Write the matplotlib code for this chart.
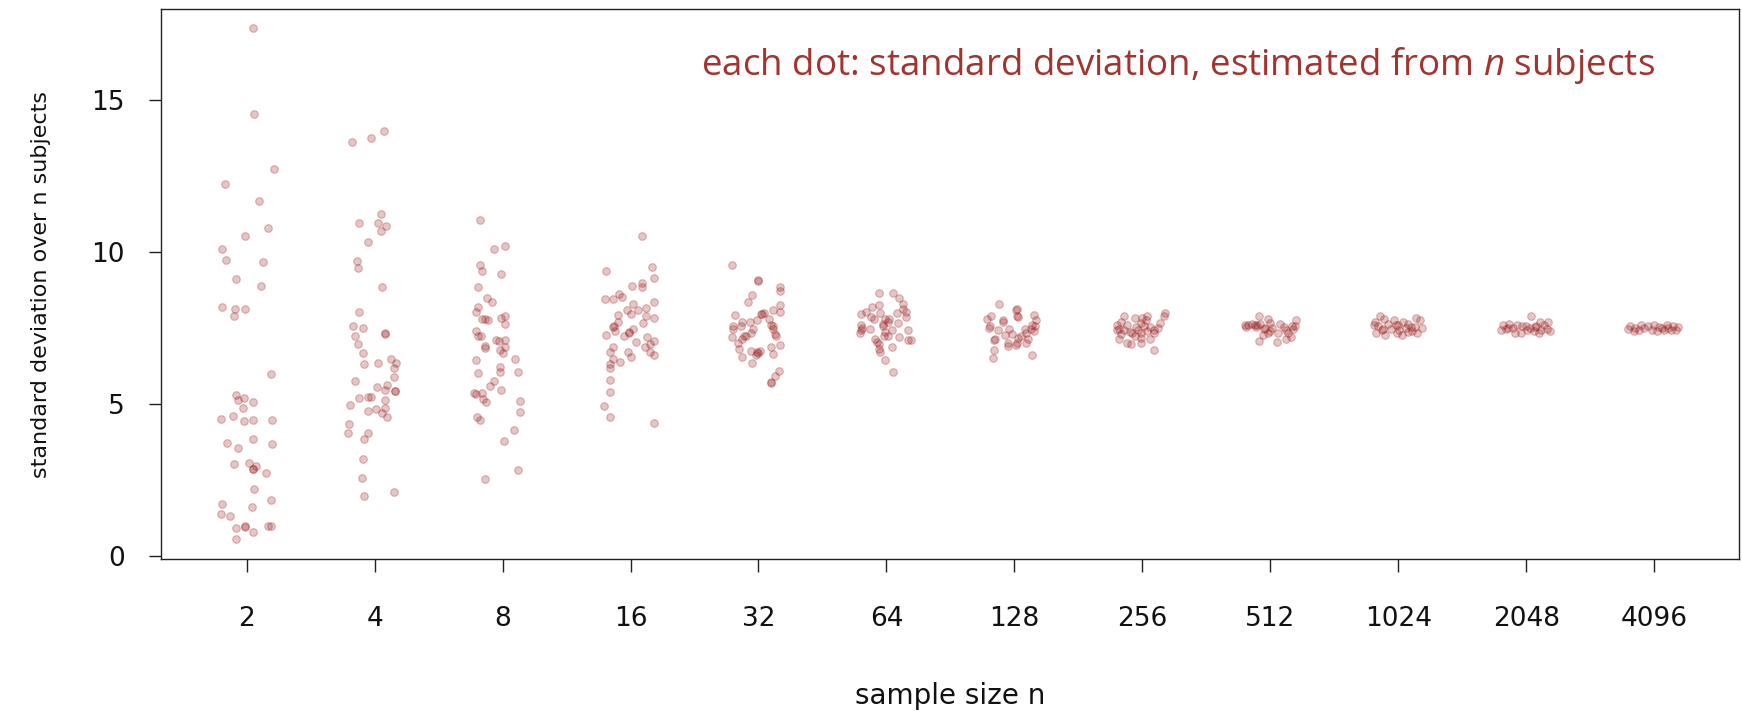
#!/usr/bin/env python3
# plot.py - spread of the sample standard deviation vs. sample size

import matplotlib
matplotlib.use("Agg")
import matplotlib.pyplot as plt
import numpy as np

sample_sizes = ["2", "4", "8", "16", "32", "64", "128", "256", "512",
                "1024", "2048", "4096"]

# (sd estimate, horizontal jitter), one list per n
pts_2 = [(17.38, .05), (14.54, .06), (12.73, .21), (12.26, -.17),
         (11.68, .10), (10.80, .17), (10.53, -.01), (10.11, -.19),
         (9.75, -.16), (9.68, .13), (9.12, -.08), (8.89, .11), (8.21, -.19),
         (8.14, -.09), (8.13, -.01), (7.91, -.10), (5.98, .19), (5.31, -.08),
         (5.13, -.07), (5.22, -.02), (5.07, .05), (4.88, -.03), (4.51, -.20),
         (4.60, -.11), (4.45, -.02), (4.48, .05), (4.47, .20), (3.72, -.15),
         (3.57, -.07), (3.84, .05), (3.69, .20), (3.02, -.10), (3.05, .02),
         (2.88, .05), (2.97, .07), (2.86, .05), (2.74, .15), (2.21, .06),
         (1.86, .19), (1.70, -.19), (1.61, .04), (1.37, -.20), (1.32, -.13),
         (0.93, -.08), (0.98, -.01), (0.79, .05), (0.98, .17), (1.00, .19),
         (0.57, -.08), (0.95, -.01)]
pts_4 = [(13.99, .07), (13.76, -.03), (13.63, -.18), (11.25, .05),
         (10.97, -.12), (10.97, .03), (10.85, .09), (10.69, .05),
         (10.35, -.05), (9.70, -.14), (9.47, -.13), (8.85, .06), (8.02, -.12),
         (7.58, -.17), (7.51, -.09), (7.26, -.15), (7.33, .08), (7.30, .08),
         (6.99, -.13), (6.68, -.09), (6.32, -.08), (6.36, .03), (6.49, .13),
         (6.36, .17), (6.20, .15), (5.90, .15), (5.78, -.15), (5.56, .02),
         (5.62, .10), (5.46, .08), (5.44, .16), (5.42, .16), (5.21, -.12),
         (5.25, -.05), (5.25, -.03), (5.13, .08), (4.97, -.19), (4.79, -.05),
         (4.84, .01), (4.87, .08), (4.72, .06), (4.59, .10), (4.34, -.20),
         (4.05, -.21), (4.05, -.05), (3.87, -.08), (3.18, -.09), (2.57, -.10),
         (1.97, -.08), (2.11, .15)]
pts_8 = [(11.05, -.18), (10.12, -.07), (10.22, .02), (9.57, -.18),
         (9.40, -.16), (9.30, -.01), (8.87, -.19), (8.49, -.12), (8.38, -.08),
         (8.20, -.19), (8.03, -.21), (7.79, -.16), (7.79, -.14), (7.76, -.11),
         (7.84, -.01), (7.89, .02), (7.64, .02), (7.40, -.21), (7.23, -.19),
         (7.24, -.17), (7.12, -.05), (7.09, -.03), (7.10, .02), (6.91, -.14),
         (6.85, -.14), (6.77, -.02), (6.69, .00), (6.87, .02), (6.49, .10),
         (6.46, -.21), (6.23, -.02), (6.05, -.02), (6.02, -.19), (6.06, .12),
         (5.76, -.07), (5.59, -.10), (5.47, -.01), (5.38, -.22), (5.33, -.21),
         (5.38, -.16), (5.16, -.15), (5.07, -.13), (5.09, .14), (4.75, .14),
         (4.57, -.20), (4.47, -.18), (4.14, .09), (3.80, .01), (2.82, .12),
         (2.55, -.14)]
pts_16 = [(10.53, .09), (9.40, -.19), (9.51, .17), (9.15, .18), (8.88, .01),
          (8.98, .09), (8.87, .09), (8.46, -.20), (8.45, -.14), (8.62, -.09),
          (8.52, -.07), (8.38, .18), (8.30, .02), (8.10, -.03), (7.98, .00),
          (8.09, .06), (8.16, .12), (7.93, -.10), (7.89, .12), (7.84, .18),
          (7.71, -.10), (7.67, .10), (7.54, -.14), (7.57, -.13), (7.40, -.12),
          (7.48, .02), (7.39, -.01), (7.28, -.19), (7.26, -.05), (7.35, -.01),
          (7.21, .13), (7.07, .18), (6.98, .15), (7.04, .04), (6.89, -.14),
          (6.89, .11), (6.73, -.16), (6.71, -.02), (6.71, .15), (6.63, .18),
          (6.57, .00), (6.50, -.14), (6.39, -.08), (6.31, -.16), (6.18, -.16),
          (5.79, -.16), (5.41, -.16), (4.94, -.21), (4.57, -.16), (4.38, .18)]
pts_32 = [(9.58, -.21), (9.10, .00), (9.05, .00), (8.87, .17), (8.73, .17),
          (8.61, -.05), (8.36, -.08), (8.28, .17), (8.10, .11), (8.02, .17),
          (7.95, -.18), (7.97, .02), (7.99, .04), (7.76, -.01), (7.82, .08),
          (7.71, -.13), (7.69, -.07), (7.58, -.20), (7.57, -.14), (7.61, .10),
          (7.57, .11), (7.47, -.20), (7.49, -.04), (7.36, -.06), (7.30, .13),
          (7.21, -.21), (7.23, -.11), (7.24, -.10), (7.23, .14), (7.02, -.16),
          (7.15, -.13), (6.95, .17), (6.82, -.15), (6.87, .10), (6.75, -.06),
          (6.73, -.01), (6.75, .01), (6.63, -.02), (6.66, .11), (6.54, -.13),
          (6.34, -.05), (6.10, .16), (5.94, .13), (5.71, .10), (5.73, .10),
          (7.97, .03), (7.47, .11), (6.70, .00)]
pts_64 = [(8.67, -.06), (8.67, .05), (8.49, .10), (8.30, .13), (8.28, -.06),
          (8.19, -.11), (8.13, .13), (8.03, -.16), (7.98, -.20), (7.99, -.05),
          (7.99, .08), (8.03, .15), (7.88, .15), (7.82, -.01), (7.79, -.10),
          (7.82, .02), (7.70, .01), (7.64, -.03), (7.67, .09), (7.61, -.20),
          (7.45, -.20), (7.49, -.13), (7.39, -.01), (7.45, .04), (7.34, -.21),
          (7.43, .17), (7.25, .01), (7.24, -.02), (7.21, .10), (7.16, -.09),
          (7.11, .19), (7.04, -.07), (6.99, -.06), (6.87, .04), (6.82, -.06),
          (6.71, -.05), (6.47, -.01), (6.07, .05), (7.11, .17), (7.56, -.03),
          (7.88, -.12), (7.52, -.19)]
pts_128 = [(8.31, -.12), (8.09, .01), (8.12, .02), (7.90, .02), (7.86, .03),
           (7.91, -.18), (7.94, .15), (7.79, -.21), (7.77, -.09), (7.69, -.09),
           (7.77, .17), (7.56, -.19), (7.51, -.20), (7.45, -.13), (7.47, -.04),
           (7.49, .08), (7.47, .13), (7.40, .15), (7.31, -.02), (7.34, .09),
           (7.29, -.07), (7.18, .03), (7.15, .11), (7.10, -.16), (7.15, -.15),
           (7.01, -.05), (7.01, .02), (6.94, .01), (7.01, .09), (6.80, -.16),
           (6.93, -.05), (6.63, .14), (6.53, -.17), (7.56, .16), (7.60, .14),
           (7.25, .05)]
pts_256 = [(8.00, .18), (7.91, .17), (7.91, .04), (7.91, -.14), (7.83, -.06),
           (7.83, .00), (7.71, -.17), (7.67, -.01), (7.67, .14), (7.61, -.12),
           (7.62, -.20), (7.58, .01), (7.54, -.05), (7.45, -.20), (7.47, -.18),
           (7.45, -.14), (7.45, .09), (7.51, .12), (7.43, -.03), (7.42, .04),
           (7.34, -.08), (7.33, -.01), (7.31, -.17), (7.36, .09), (7.18, -.01),
           (7.13, .06), (7.02, -.12), (6.99, -.09), (7.02, -.01), (7.13, -.18),
           (6.77, .09), (7.23, -.06), (7.77, .03), (7.38, -.10), (7.55, .06)]
pts_512 = [(7.89, -.09), (7.80, -.02), (7.78, .20), (7.61, -.20), (7.63, -.14),
           (7.61, -.10), (7.64, -.08), (7.67, .00), (7.64, .08), (7.56, .19),
           (7.54, -.19), (7.54, -.11), (7.47, -.05), (7.50, .01), (7.45, .12),
           (7.47, .18), (7.34, -.02), (7.29, -.06), (7.36, .06), (7.34, .14),
           (7.09, -.09), (7.04, .05), (7.14, .12), (7.40, .00), (7.54, .11),
           (7.60, -.17), (7.58, .17), (7.52, -.04), (7.20, .16), (7.62, -.12)]
pts_1024 = [(7.91, -.14), (7.80, -.11), (7.69, -.18), (7.58, -.16),
            (7.65, -.08), (7.61, -.02), (7.69, .04), (7.65, .08), (7.84, .14),
            (7.76, .17), (7.50, .19), (7.43, -.13), (7.47, -.06), (7.45, .01),
            (7.50, .06), (7.40, .11), (7.34, -.17), (7.29, -.10), (7.29, .03),
            (7.34, .15), (7.34, -.01), (7.54, .10), (7.76, -.03), (7.62, -.19),
            (7.55, .13), (7.48, -.12), (7.60, .00), (7.38, .08)]
pts_2048 = [(7.89, .04), (7.72, .11), (7.69, .17), (7.61, -.18), (7.64, -.13),
            (7.61, -.07), (7.56, -.03), (7.56, .08), (7.47, -.16), (7.50, -.10),
            (7.43, .01), (7.40, .06), (7.43, .12), (7.40, .19), (7.34, -.09),
            (7.36, -.04), (7.34, .10), (7.50, .03), (7.43, -.20), (7.60, .14),
            (7.52, -.14), (7.58, .00), (7.46, .16), (7.55, .07)]
pts_4096 = [(7.56, -.19), (7.50, -.15), (7.61, -.10), (7.58, -.05),
            (7.61, .00), (7.54, .04), (7.61, .10), (7.56, .15), (7.43, .17),
            (7.40, -.16), (7.45, -.12), (7.43, -.02), (7.40, .02), (7.43, .08),
            (7.45, .13), (7.52, -.08), (7.50, .06), (7.55, .19), (7.47, -.20),
            (7.52, .11)]

groups = [pts_2, pts_4, pts_8, pts_16, pts_32, pts_64, pts_128, pts_256,
          pts_512, pts_1024, pts_2048, pts_4096]

y_ticks = [0, 5, 10, 15]
note_color = "#A2342F"


def plot(ax):
    for i, pts in enumerate(groups):
        sd = np.array([p[0] for p in pts])
        jit = np.array([p[1] for p in pts])
        ax.scatter(i + jit, sd, s=30, facecolor=(0.62, 0.12, 0.12, 0.26),
                   edgecolor=(0.55, 0.0, 0.0, 0.26), linewidth=0.8,
                   zorder=3)

    ax.set_xlim(-0.67, 11.66)
    ax.set_ylim(-0.1, 18.0)
    ax.set_xticks(range(len(sample_sizes)))
    ax.set_xticklabels(sample_sizes)
    ax.set_yticks(y_ticks)

    for side in ax.spines.values():
        side.set_color("#222222")
        side.set_linewidth(1.0)
    ax.tick_params(axis="both", length=9, width=1.0, color="#222222",
                   labelsize=19, labelcolor="#111111")
    ax.tick_params(axis="x", pad=25)
    ax.tick_params(axis="y", pad=17)

    ax.set_xlabel("sample size n", fontsize=20, labelpad=36, color="#111111")
    ax.set_ylabel("standard deviation over n subjects", fontsize=16,
                  labelpad=29, color="#111111")

    ax.text(0.947, 0.897,
            "each dot: standard deviation, estimated from $\\it{n}$ subjects",
            transform=ax.transAxes, ha="right", va="center",
            fontsize=26.5, color=note_color, family="Open Sans")


def main():
    plt.rcParams["font.family"] = ["DejaVu Sans"]
    plt.rcParams["mathtext.fontset"] = "custom"
    plt.rcParams["mathtext.it"] = "Open Sans:italic"
    fig = plt.figure(figsize=(17.42, 7.15), dpi=100)
    ax = fig.add_axes([0.0924, 0.218, 0.9056, 0.769])
    plot(ax)
    fig.savefig("out.png", dpi=100)


if __name__ == "__main__":
    main()
